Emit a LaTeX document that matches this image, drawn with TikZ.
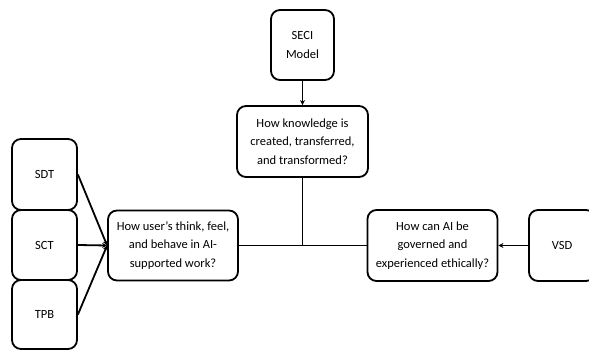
\documentclass[tikz,border=0pt]{standalone}
\usepackage{fontspec}
\setmainfont{Carlito}
\usetikzlibrary{arrows.meta}
\begin{document}
\begin{tikzpicture}[x=1pt,y=-1pt,
  box/.style={draw=black, line width=1.8pt, rounded corners=9pt, align=center,
    inner sep=0pt, font=\fontsize{12.5}{18.5}\selectfont, text=black},
  conn/.style={line width=1.8pt, draw=black},
  arr/.style={conn, -{Stealth[length=5pt,width=5pt]}}]
\useasboundingbox (0,0) rectangle (589,350);
\node[box, minimum width=63pt, minimum height=70pt] (seci) at (302.5,45) {SECI\\Model};
\node[box, minimum width=131pt, minimum height=71pt] (know) at (302.5,141.5) {How knowledge is\\created, transferred,\\and transformed?};
\node[box, minimum width=130pt, minimum height=70pt] (user) at (173,245.5) {How user's think, feel,\\and behave in AI-\\supported work?};
\node[box, minimum width=130pt, minimum height=71pt] (gov) at (432.5,245.5) {How can AI be\\governed and\\experienced ethically?};
\node[box, minimum width=66pt, minimum height=71pt] (vsd) at (562,245.5) {VSD};
\node[box, minimum width=65pt, minimum height=71pt] (sdt) at (44.5,174.5) {SDT};
\node[box, minimum width=65pt, minimum height=70pt] (sct) at (44.5,245) {SCT};
\node[box, minimum width=65pt, minimum height=69pt] (tpb) at (44.5,314.5) {TPB};
\coordinate (junc) at (know.south |- user.east);
\draw[arr] (seci) -- (know);
\draw[conn] (user.east) -- (gov.west);
\draw[conn] (know.south) -- (junc);
\draw[arr] (vsd.west) -- (gov.east);
\draw[arr] (sdt.east) -- (user.west);
\draw[arr] (sct.east) -- (user.west);
\draw[arr] (tpb.east) -- (user.west);
\end{tikzpicture}
\end{document}
